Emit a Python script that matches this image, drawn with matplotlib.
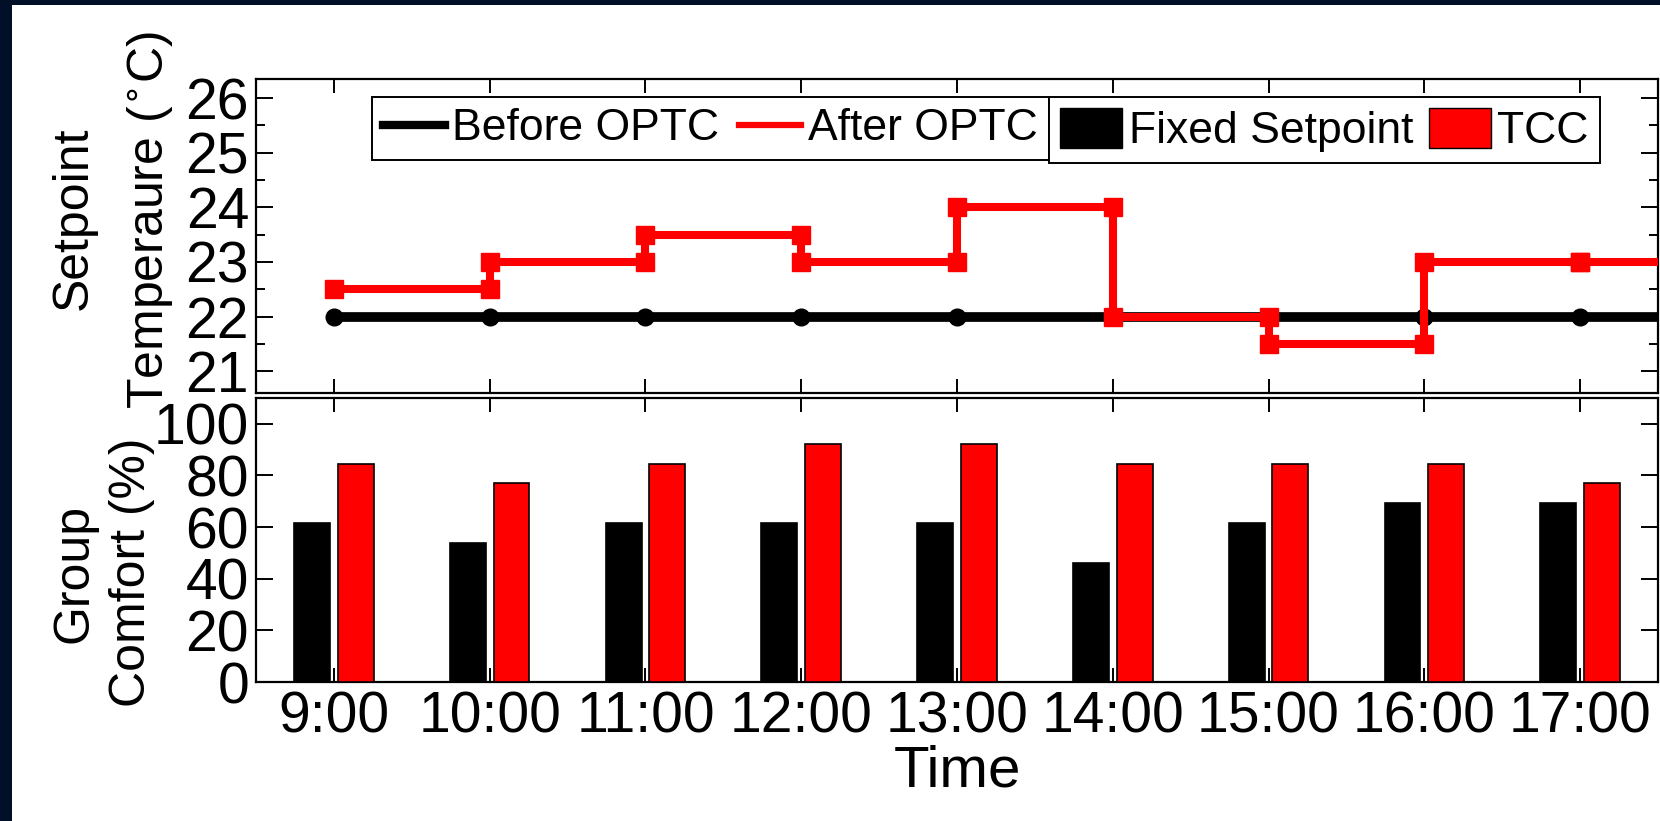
import matplotlib.pyplot as plt
import numpy as np
from matplotlib.lines import Line2D
from matplotlib.patches import Patch, Rectangle

# hours of the day and their labels
hours = [9, 10, 11, 12, 13, 14, 15, 16, 17]
hour_labels = ["9:00", "10:00", "11:00", "12:00", "13:00", "14:00", "15:00", "16:00", "17:00"]

# setpoint temperature (C) valid from each hour on
before_optc = [22, 22, 22, 22, 22, 22, 22, 22, 22]
after_optc = [22.5, 23, 23.5, 23, 24, 22, 21.5, 23, 23]

# group comfort (%)
fixed_setpoint = [61.5, 53.8, 61.5, 61.5, 61.5, 46.2, 61.5, 69.2, 69.2]
tcc = [84.6, 76.9, 84.6, 92.3, 92.3, 84.6, 84.6, 84.6, 76.9]

RED = "#ff0000"
W, H = 1660, 821
plt.rcParams["font.family"] = ["Liberation Sans", "DejaVu Sans"]

fig = plt.figure(figsize=(W / 100, H / 100), dpi=100, facecolor="#021027")
fig.patches.append(Rectangle((12 / W, 0), 1, 1 - 5 / H, transform=fig.transFigure,
                             facecolor="white", edgecolor="none", zorder=-5))

ax1 = fig.add_axes([256 / W, 1 - 393 / H, 1402 / W, 314 / H])
ax2 = fig.add_axes([256 / W, 1 - 682 / H, 1402 / W, 284 / H])


def px_text(x, y, s, size, **kw):
    # text placed by pixel position (from top-left), anchored on its baseline
    fig.text(x / W, 1 - y / H, s, fontsize=size, rotation_mode="anchor",
             ha="center", va="baseline", **kw)


xmin, xmax = 8.5, 17.5

# --- top: setpoint temperature ---
bx = hours + [xmax]
by = before_optc + [before_optc[-1]]
ax1.plot(bx, by, color="k", lw=7, marker="o", ms=12, markevery=list(range(len(hours))),
         solid_capstyle="butt", zorder=3)

sx, sy = [hours[0]], [after_optc[0]]
for i in range(1, len(hours)):
    sx += [hours[i], hours[i]]
    sy += [after_optc[i - 1], after_optc[i]]
n_marks = len(sx)
sx.append(xmax)
sy.append(after_optc[-1])
ax1.plot(sx, sy, color=RED, lw=5.8, marker="s", ms=13, markevery=list(range(n_marks)),
         solid_capstyle="butt", solid_joinstyle="miter", zorder=4)

ax1.set_xlim(xmin, xmax)
ax1.set_ylim(20.6, 26.35)
ax1.set_yticks([21, 22, 23, 24, 25, 26])
ax1.set_yticks(np.arange(21.5, 26, 1.0), minor=True)
ax1.set_xticks(hours)
ax1.set_xticklabels([])

# --- bottom: group comfort ---
x = np.array(hours)
w = 0.23
ax2.bar(x - 0.14, fixed_setpoint, w, color="k", edgecolor="k", lw=1.2, zorder=3)
ax2.bar(x + 0.14, tcc, w, color=RED, edgecolor="k", lw=1.2, zorder=3)
ax2.set_xlim(xmin, xmax)
ax2.set_ylim(0, 110)
ax2.set_yticks([0, 20, 40, 60, 80, 100])
ax2.set_xticks(hours)
ax2.set_xticklabels(hour_labels)

for ax in (ax1, ax2):
    for s in ax.spines.values():
        s.set_linewidth(1.6)
    ax.tick_params(axis="both", which="both", direction="in", top=True, right=True,
                   width=1.4, labelsize=41, pad=5)
    ax.tick_params(axis="y", which="major", length=12)
    ax.tick_params(axis="y", which="minor", length=6.5)
    ax.tick_params(axis="x", which="major", length=10, pad=6)

# axis labels, two lines each
px_text(87, 218, "Setpoint", 36, rotation=90)
px_text(163, 220, "Temperaure ($^{\\circ}$C)", 36, rotation=90)
px_text(87, 573, "Group", 36, rotation=90)
px_text(145, 572, "Comfort (%)", 36, rotation=90)
px_text(957, 786, "Time", 42)

# legends, stretched to the boxes of the reference
line_handles = [Line2D([], [], color="k", lw=6), Line2D([], [], color=RED, lw=4.5)]
leg1 = ax1.legend(line_handles, ["Before OPTC", "After OPTC"], loc="upper left",
                  bbox_to_anchor=(0.0827, 0.742, 0.4829, 0.2007), mode="expand",
                  borderaxespad=0, ncol=2, fontsize=32, fancybox=False, framealpha=1,
                  edgecolor="k", handlelength=1.4, handletextpad=0.15, columnspacing=0.3,
                  borderpad=0.25)
leg1.get_frame().set_linewidth(1.4)
ax1.add_artist(leg1)
bar_handles = [Patch(facecolor="k", edgecolor="k"), Patch(facecolor=RED, edgecolor="k")]
leg2 = ax1.legend(bar_handles, ["Fixed Setpoint", "TCC"], loc="upper left",
                  bbox_to_anchor=(0.5656, 0.742, 0.393, 0.2007), mode="expand",
                  borderaxespad=0, ncol=2, fontsize=32, fancybox=False, framealpha=1,
                  edgecolor="k", handlelength=1.4, handleheight=1.0, handletextpad=0.15,
                  columnspacing=0.2, borderpad=0.25)
leg2.get_frame().set_linewidth(1.4)

plt.savefig("out.png", dpi=100)
